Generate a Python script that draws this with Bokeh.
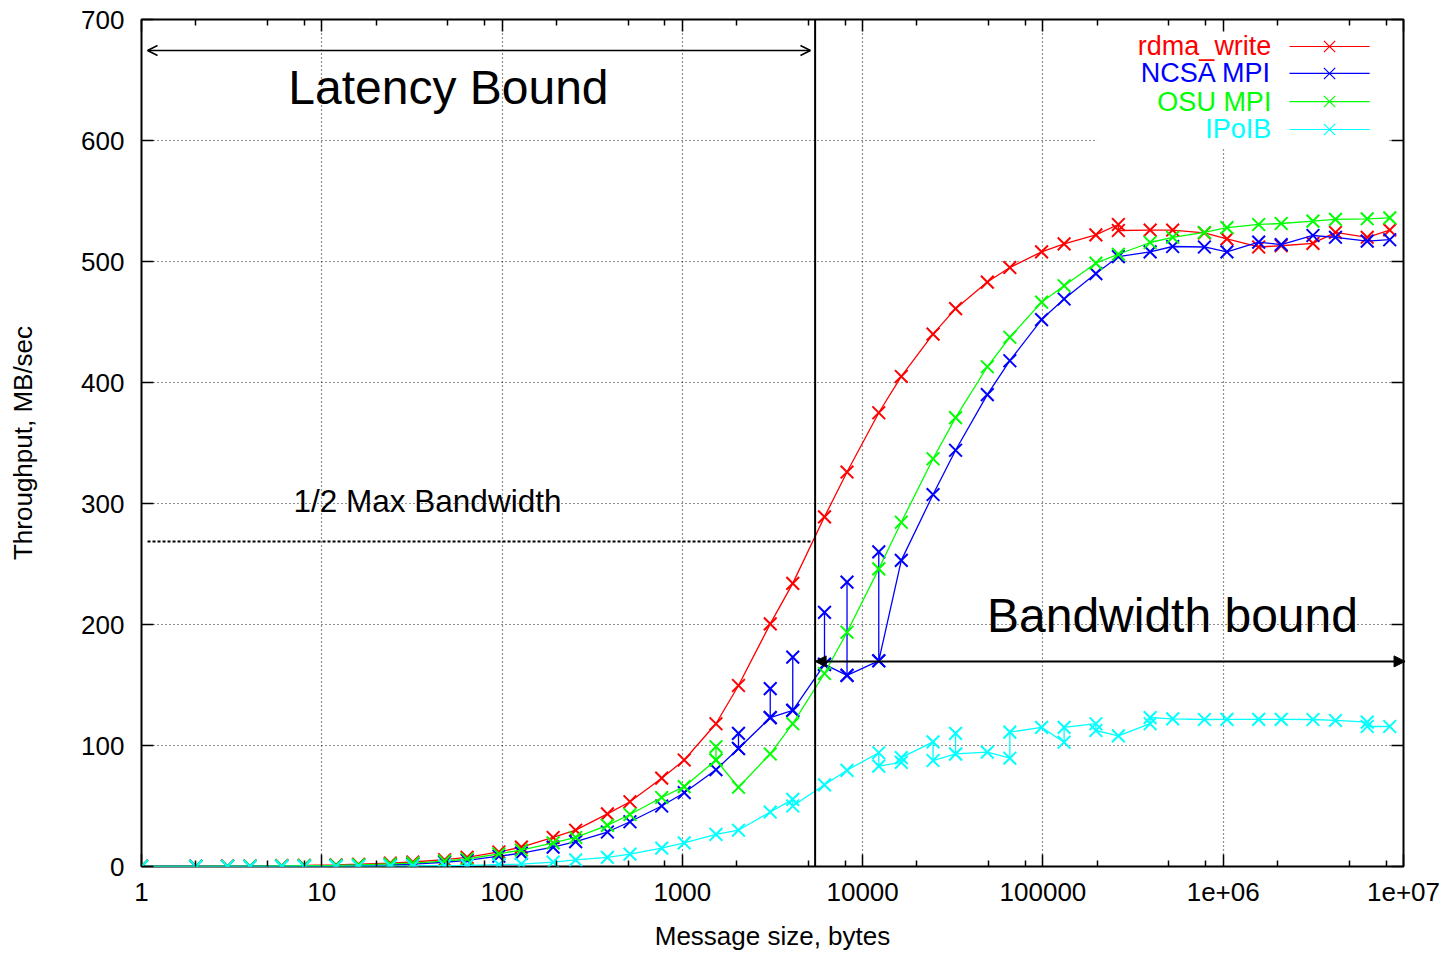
from bokeh.plotting import figure
from bokeh.models import (FixedTicker, Range1d, LinearAxis, LogAxis, Label, Arrow,
                          NormalHead, OpenHead, Span, BoxAnnotation)
from bokeh.embed import file_html
from bokeh.resources import INLINE
from bokeh.core.properties import value

# ---------------- data ----------------
sizes = [1, 2, 3, 4, 6, 8, 12, 16, 24, 32, 48, 64, 96, 128, 192, 256, 384, 512, 768,
         1024, 1536, 2048, 3072, 4096, 6144, 8192, 12288, 16384, 24576, 32768, 49152,
         65536, 98304, 131072, 196608, 262144, 393216, 524288, 786432, 1048576,
         1572864, 2097152, 3145728, 4194304, 6291456, 8388608]

# one entry per size; a list means several measurements at that size (in run order)
rdma_write = [0.1, 0.2, 0.35, 0.45, 0.7, 0.95, 1.4, 1.9, 2.8, 3.7, 5.6, 7.5, 12, 16, 24,
              30, 43.5, 53.5, 73, 88, 118, 149.6, 200.5, 234, 289, 326, 375, 405, 440,
              461, 483, 495, 508, 514.6, 522, [530.6, 525.6], 526, 526, 523.7, 518.7,
              512, 513, 515, 524, 520, 526]
ncsa_mpi = [0.05, 0.1, 0.15, 0.2, 0.35, 0.45, 0.7, 0.95, 1.4, 1.9, 3.5, 5, 8.5, 11, 16,
            20.5, 28.5, 37, 50, 61, 80, [97.5, 110, 97.5], [123, 147, 123],
            [129, 173, 129], [167, 210, 167], [158, 235, 158], [170, 260, 170], 253,
            307.4, 344, 390, 418, 452, 469, 490, 504, 508, 512.4, 512, 508, 516, 514,
            521.5, 520, 516.8, 518]
osu_mpi = [0.08, 0.15, 0.25, 0.3, 0.5, 0.7, 1.0, 1.4, 2.1, 2.8, 4.5, 6.2, 10.5, 13.6,
           19.5, 24, 34, 43, 57, 66, [88, 99, 88], 65.5, 93, 118, 159.5, 193.6, 246,
           284.5, 337, 371, 413, 437.4, 466.4, 480, 498.6, 506, 515.7, 520, 524, 528,
           530.6, 531.4, 533.4, 534.8, 535.3, 536]
ipoib = [0.01, 0.02, 0.03, 0.04, 0.06, 0.08, 0.15, 0.2, 0.3, 0.4, 0.8, 1.0, 1.6, 2.0,
         3.6, 5.5, 7.6, 10.2, 15.2, 19.5, 26.5, 30, 45, [55.5, 50], 67.5, 79.5, [94, 83],
         [86, 90], [103, 87.6], [93, 110, 93], 94.5, [89.5, 111], 115, [102.7, 115],
         [118, 112.4], 108, [118, 123], 122, 121.5, 121.6, 121.6, 121.6, 121.5, 120.7,
         [119.3, 115.7], 115.7]

series_names = ["rdma_write", "NCSA MPI", "OSU MPI", "IPoIB"]
series_values = [rdma_write, ncsa_mpi, osu_mpi, ipoib]
series_colors = ["#ff0000", "#0000ff", "#00ff00", "#00ffff"]

x_ticks = [1, 10, 100, 1000, 10000, 100000, 1000000, 10000000]
x_tick_labels = ["1", "10", "100", "1000", "10000", "100000", "1e+06", "1e+07"]
x_minor = [m * 10 ** d for d in range(7) for m in (2, 5, 8)]
y_ticks = [0, 100, 200, 300, 400, 500, 600, 700]

half_max_bandwidth = 268.5
latency_edge = 5450          # message size where latency bound ends
bandwidth_arrow_level = 169.5
latency_arrow_level = 674.4

FONT = "Liberation Sans"


def expand(vals):
    xs, ys = [], []
    for s, v in zip(sizes, vals):
        for vv in (v if isinstance(v, list) else [v]):
            xs.append(s)
            ys.append(vv)
    return xs, ys


p = figure(width=1451, height=953, x_axis_type="log",
           x_range=Range1d(1, 1e7), y_range=Range1d(0, 700),
           output_backend="svg", toolbar_location=None,
           min_border_left=141, min_border_right=48, min_border_top=19,
           min_border_bottom=87)
p.background_fill_color = "white"
p.border_fill_color = "white"
p.outline_line_color = "black"
p.outline_line_width = 2

# axes
xa = p.xaxis[0]
xa.ticker = FixedTicker(ticks=x_ticks, minor_ticks=x_minor)
xa.major_label_overrides = {t: l for t, l in zip(x_ticks, x_tick_labels)}
xa.axis_label = "Message size, bytes"
xa.major_label_standoff = 16
xa.axis_label_standoff = 17
ya = p.yaxis[0]
ya.ticker = FixedTicker(ticks=y_ticks)
ya.axis_label = "Throughput, MB/sec"
ya.major_label_standoff = 17
ya.axis_label_standoff = 40

top = LogAxis(ticker=FixedTicker(ticks=x_ticks, minor_ticks=x_minor))
right = LinearAxis(ticker=FixedTicker(ticks=y_ticks))
top.major_label_overrides = {t: " " for t in x_ticks}
right.major_label_overrides = {t: " " for t in y_ticks}
p.add_layout(top, "above")
p.add_layout(right, "right")
for ax in (top, right):
    ax.major_label_text_font_size = "1px"
    ax.major_label_text_alpha = 0
    ax.major_label_standoff = 0
    ax.axis_line_color = None

for ax in (xa, ya, top, right):
    ax.major_tick_in = 12
    ax.major_tick_out = 0
    ax.minor_tick_in = 6
    ax.minor_tick_out = 0
    ax.major_tick_line_width = 1.5
    ax.minor_tick_line_width = 1.5
    ax.major_tick_line_color = "black"
    ax.minor_tick_line_color = "black"
    ax.major_label_text_font = FONT
    ax.axis_label_text_font = FONT
    ax.major_label_text_color = "black"
    ax.axis_label_text_color = "black"
    ax.axis_label_text_font_style = "normal"
for ax in (xa, ya):
    ax.major_label_text_font_size = "26px"
    ax.axis_label_text_font_size = "26px"
    ax.axis_line_color = None
ya.minor_tick_line_color = None
right.minor_tick_line_color = None

# grid
p.xgrid[0].ticker = FixedTicker(ticks=x_ticks[1:-1])
p.ygrid[0].ticker = FixedTicker(ticks=y_ticks[1:-1])
for g in (p.xgrid[0], p.ygrid[0]):
    g.grid_line_color = "#222222"
    g.grid_line_dash = "1 3"
    g.grid_line_width = 1.2

# white key background hides the grid behind the legend
p.add_layout(BoxAnnotation(left=2.0e5, right=8.3e6, bottom=593, top=697,
                           fill_color="white", fill_alpha=1, line_color=None,
                           level="underlay"))

# series
for vals, col in zip(series_values, series_colors):
    xs, ys = expand(vals)
    p.line(xs, ys, line_color=col, line_width=1.3)
    p.scatter(xs, ys, marker="x", size=18, line_color=col, line_width=2)

# legend (gnuplot style: label, then sample)
leg_text_x = 1.85e6
leg_line_x = [2.33e6, 6.49e6]
leg_mark_x = 3.89e6
leg_rows_y = [677.7, 655.4, 632.2, 609.1]
for name, col, ly in zip(series_names, series_colors, leg_rows_y):
    p.text(x=[leg_text_x], y=[ly], text=[name], text_align="right",
           text_baseline="middle", text_color=col, text_font=value(FONT),
           text_font_size="27px")
    p.line(leg_line_x, [ly, ly], line_color=col, line_width=1.2)
    p.scatter([leg_mark_x], [ly], marker="x", size=16, line_color=col, line_width=1.2)

# annotations
p.add_layout(Span(location=latency_edge, dimension="height", line_color="black",
                  line_width=2))
p.line([1.08, 5134], [half_max_bandwidth, half_max_bandwidth], line_color="black",
       line_width=2, line_dash="3 2")
p.add_layout(Arrow(start=OpenHead(size=10, line_width=1.5),
                   end=OpenHead(size=10, line_width=1.5),
                   x_start=1.08, y_start=latency_arrow_level, x_end=5134,
                   y_end=latency_arrow_level, line_width=1.5, line_color="black"))
p.add_layout(Arrow(start=NormalHead(size=11, fill_color="black", line_color="black"),
                   end=NormalHead(size=11, fill_color="black", line_color="black"),
                   x_start=latency_edge, y_start=bandwidth_arrow_level, x_end=1.02e7,
                   y_end=bandwidth_arrow_level, line_width=2, line_color="black"))

p.add_layout(Label(x=50.4, y=643.8, text="Latency Bound", text_align="center",
                   text_baseline="middle", text_font=FONT, text_font_size="48px",
                   text_color="black"))
p.add_layout(Label(x=5.23e5, y=207.4, text="Bandwidth bound", text_align="center",
                   text_baseline="middle", text_font=FONT, text_font_size="48px",
                   text_color="black"))
p.add_layout(Label(x=6.97, y=301.7, text="1/2 Max Bandwidth", text_align="left",
                   text_baseline="middle", text_font=FONT, text_font_size="31.5px",
                   text_color="black"))

open("out.html", "w").write(file_html(p, INLINE))
